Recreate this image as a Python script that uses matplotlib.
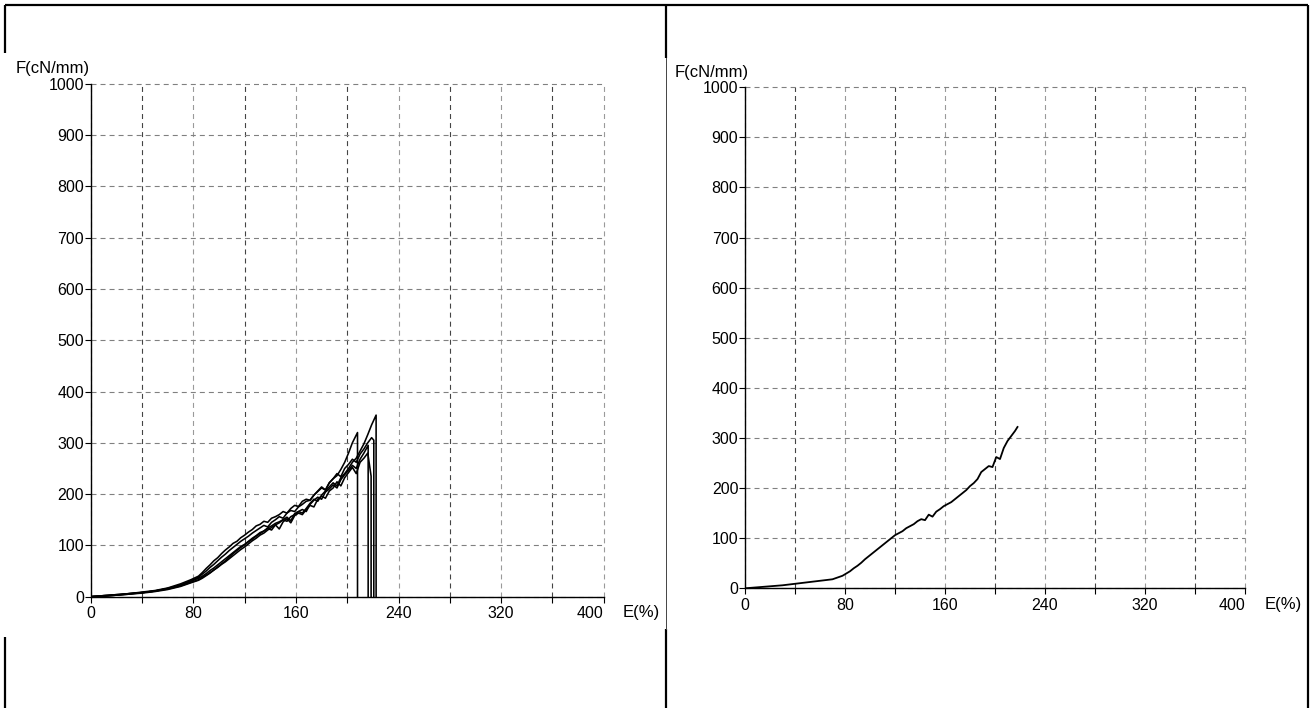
import matplotlib
matplotlib.use("Agg")
import matplotlib.pyplot as plt
from matplotlib.lines import Line2D

plt.rcParams['font.family'] = ['Liberation Sans', 'DejaVu Sans']
plt.rcParams['lines.scale_dashes'] = False

W, H = 1314, 708

# shared strain grid (E, %) for the tensile curves
E_grid = [0, 10, 20, 30, 40, 50, 60, 70, 78,
          84, 87, 90, 93, 96, 99, 102, 105, 108, 111, 114, 117, 120, 123, 126,
          129, 132, 135, 138, 141, 144, 147, 150, 153, 156, 159, 162, 165, 168,
          171, 174, 177, 180, 183, 186, 189, 192, 195, 198, 201, 204, 207, 210,
          213, 216, 219]

# left chart: five specimens, force F (cN/mm), each breaks at break_E
F_a = [0, 2, 4, 6, 9, 12, 17, 25, 33,
       40, 47, 55, 62, 70, 76, 84, 91, 97, 104, 108, 115, 120, 126, 131, 138,
       141, 147, 145, 153, 156, 160, 166, 163, 172, 178, 176, 186, 190, 188,
       198, 205, 212, 208, 222, 230, 236, 248, 262, 280, 300]
F_b = [0, 2, 4, 6, 8, 11, 16, 22, 30,
       36, 40, 45, 51, 56, 62, 68, 74, 80, 86, 92, 98, 102, 108, 114, 119,
       125, 128, 134, 138, 143, 146, 150, 155, 148, 162, 166, 170, 166, 180,
       188, 194, 190, 204, 210, 218, 212, 228, 238, 246, 256, 250, 268, 280]
F_c = [0, 1, 3, 5, 8, 11, 15, 21, 28,
       33, 38, 42, 47, 52, 57, 63, 68, 74, 80, 86, 92, 97, 103, 109, 114,
       120, 124, 130, 135, 140, 132, 146, 152, 144, 158, 163, 160, 170, 178,
       175, 190, 196, 192, 206, 212, 224, 216, 232, 242, 252, 240, 262, 270, 280]
F_d = [0, 2, 3, 6, 8, 11, 16, 23, 31,
       38, 44, 50, 57, 63, 70, 77, 83, 90, 96, 102, 108, 113, 118, 124, 129,
       134, 139, 136, 145, 150, 156, 153, 163, 168, 166, 175, 180, 186, 188,
       198, 206, 214, 208, 222, 230, 240, 234, 250, 258, 268, 262, 278, 288,
       300, 310]
F_e = [0, 1, 3, 5, 7, 10, 14, 20, 27,
       32, 36, 41, 46, 52, 58, 64, 70, 77, 84, 90, 96, 101, 107, 112, 118,
       123, 128, 133, 130, 140, 144, 150, 147, 156, 160, 166, 163, 172, 182,
       190, 186, 198, 206, 214, 222, 216, 232, 240, 250, 262, 270, 284, 298,
       316, 335]
left_curves = [F_a, F_b, F_c, F_d, F_e]
break_E = [208, 216.3, 218.6, 220.7, 222.5]
break_F = [320, 295, 235, 305, 354]

# right chart: single specimen (grid up to E=216, then the last point)
F_right = [0, 2, 4, 6, 9, 12, 15, 18, 25,
           34, 40, 45, 51, 58, 64, 70, 76, 82, 88, 94, 100, 106, 110, 114, 120,
           124, 128, 134, 138, 136, 147, 143, 153, 158, 164, 168, 172, 178, 184,
           190, 196, 204, 210, 218, 232, 238, 244, 242, 262, 258, 280, 294,
           304, 314]
end_right = (218, 322)

x_major = [0, 80, 160, 240, 320, 400]
x_minor = [40, 120, 200, 280, 360]
y_ticks = [0, 100, 200, 300, 400, 500, 600, 700, 800, 900, 1000]


def fx(px):
    return px / W


def fy(py):
    return 1 - py / H


fig = plt.figure(figsize=(W / 100, H / 100), dpi=100)

# table borders behind the two charts
border = dict(color='black', lw=1.6, solid_capstyle='butt')
segments = [((5, 1308), (5, 5)),
            ((5, 5), (5, 53)), ((5, 5), (637, 708)),
            ((666, 666), (5, 58)), ((666, 666), (629, 708)),
            ((1308, 1308), (5, 708))]
for xs, ys in segments:
    fig.add_artist(Line2D([fx(v) for v in xs], [fy(v) for v in ys],
                          transform=fig.transFigure, **border))
fig.add_artist(Line2D([fx(666), fx(666)], [fy(58), fy(629)],
                      transform=fig.transFigure, color='#444', lw=0.7))


def setup(ax):
    ax.set_xlim(0, 400)
    ax.set_ylim(0, 1000)
    ax.set_xticks(x_major)
    ax.set_xticks(x_minor, minor=True)
    ax.set_yticks(y_ticks)
    ax.set_xticklabels([str(v) for v in x_major])
    ax.get_xticklabels()[-1].set_ha('right')
    ax.tick_params(axis='both', which='both', direction='out', length=4.3,
                   width=0.8, labelsize=11.5, colors='black')
    ax.tick_params(axis='x', pad=2.5)
    ax.tick_params(axis='y', pad=0.5)
    for s in ['top', 'right']:
        ax.spines[s].set_visible(False)
    for s in ['left', 'bottom']:
        ax.spines[s].set_linewidth(1.0)
        ax.spines[s].set_zorder(5)
    dash = (0, (3.6, 2.9))
    ax.grid(True, which='major', axis='x', color='#9a9a9a', lw=0.8, ls=dash)
    ax.grid(True, which='minor', axis='x', color='#444444', lw=0.8, ls=dash)
    ax.grid(True, which='major', axis='y', color='#808080', lw=0.8, ls=dash)
    for ln in ax.get_xgridlines() + ax.get_ygridlines():
        ln.set_clip_on(False)
    ax.set_axisbelow(True)


# left chart
axl = fig.add_axes([fx(90.7), fy(596.7), fx(513.1), 513 / H])
setup(axl)
for F, bE, bF in zip(left_curves, break_E, break_F):
    xs = E_grid[:len(F)] + [bE, bE]
    ys = F + [bF, 0]
    axl.plot(xs, ys, color='black', lw=1.15)
fig.text(fx(16), fy(68), 'F(cN/mm)', fontsize=12, va='center', ha='left')
fig.text(fx(623), fy(613), 'E(%)', fontsize=12, va='center', ha='left')

# right chart
axr = fig.add_axes([fx(745), fy(588.3), fx(500), 501 / H])
setup(axr)
axr.plot(E_grid[:len(F_right)] + [end_right[0]], F_right + [end_right[1]],
         color='black', lw=1.3)
fig.text(fx(675), fy(73), 'F(cN/mm)', fontsize=12, va='center', ha='left')
fig.text(fx(1265), fy(604), 'E(%)', fontsize=12, va='center', ha='left')

fig.savefig('out.png', dpi=100)
